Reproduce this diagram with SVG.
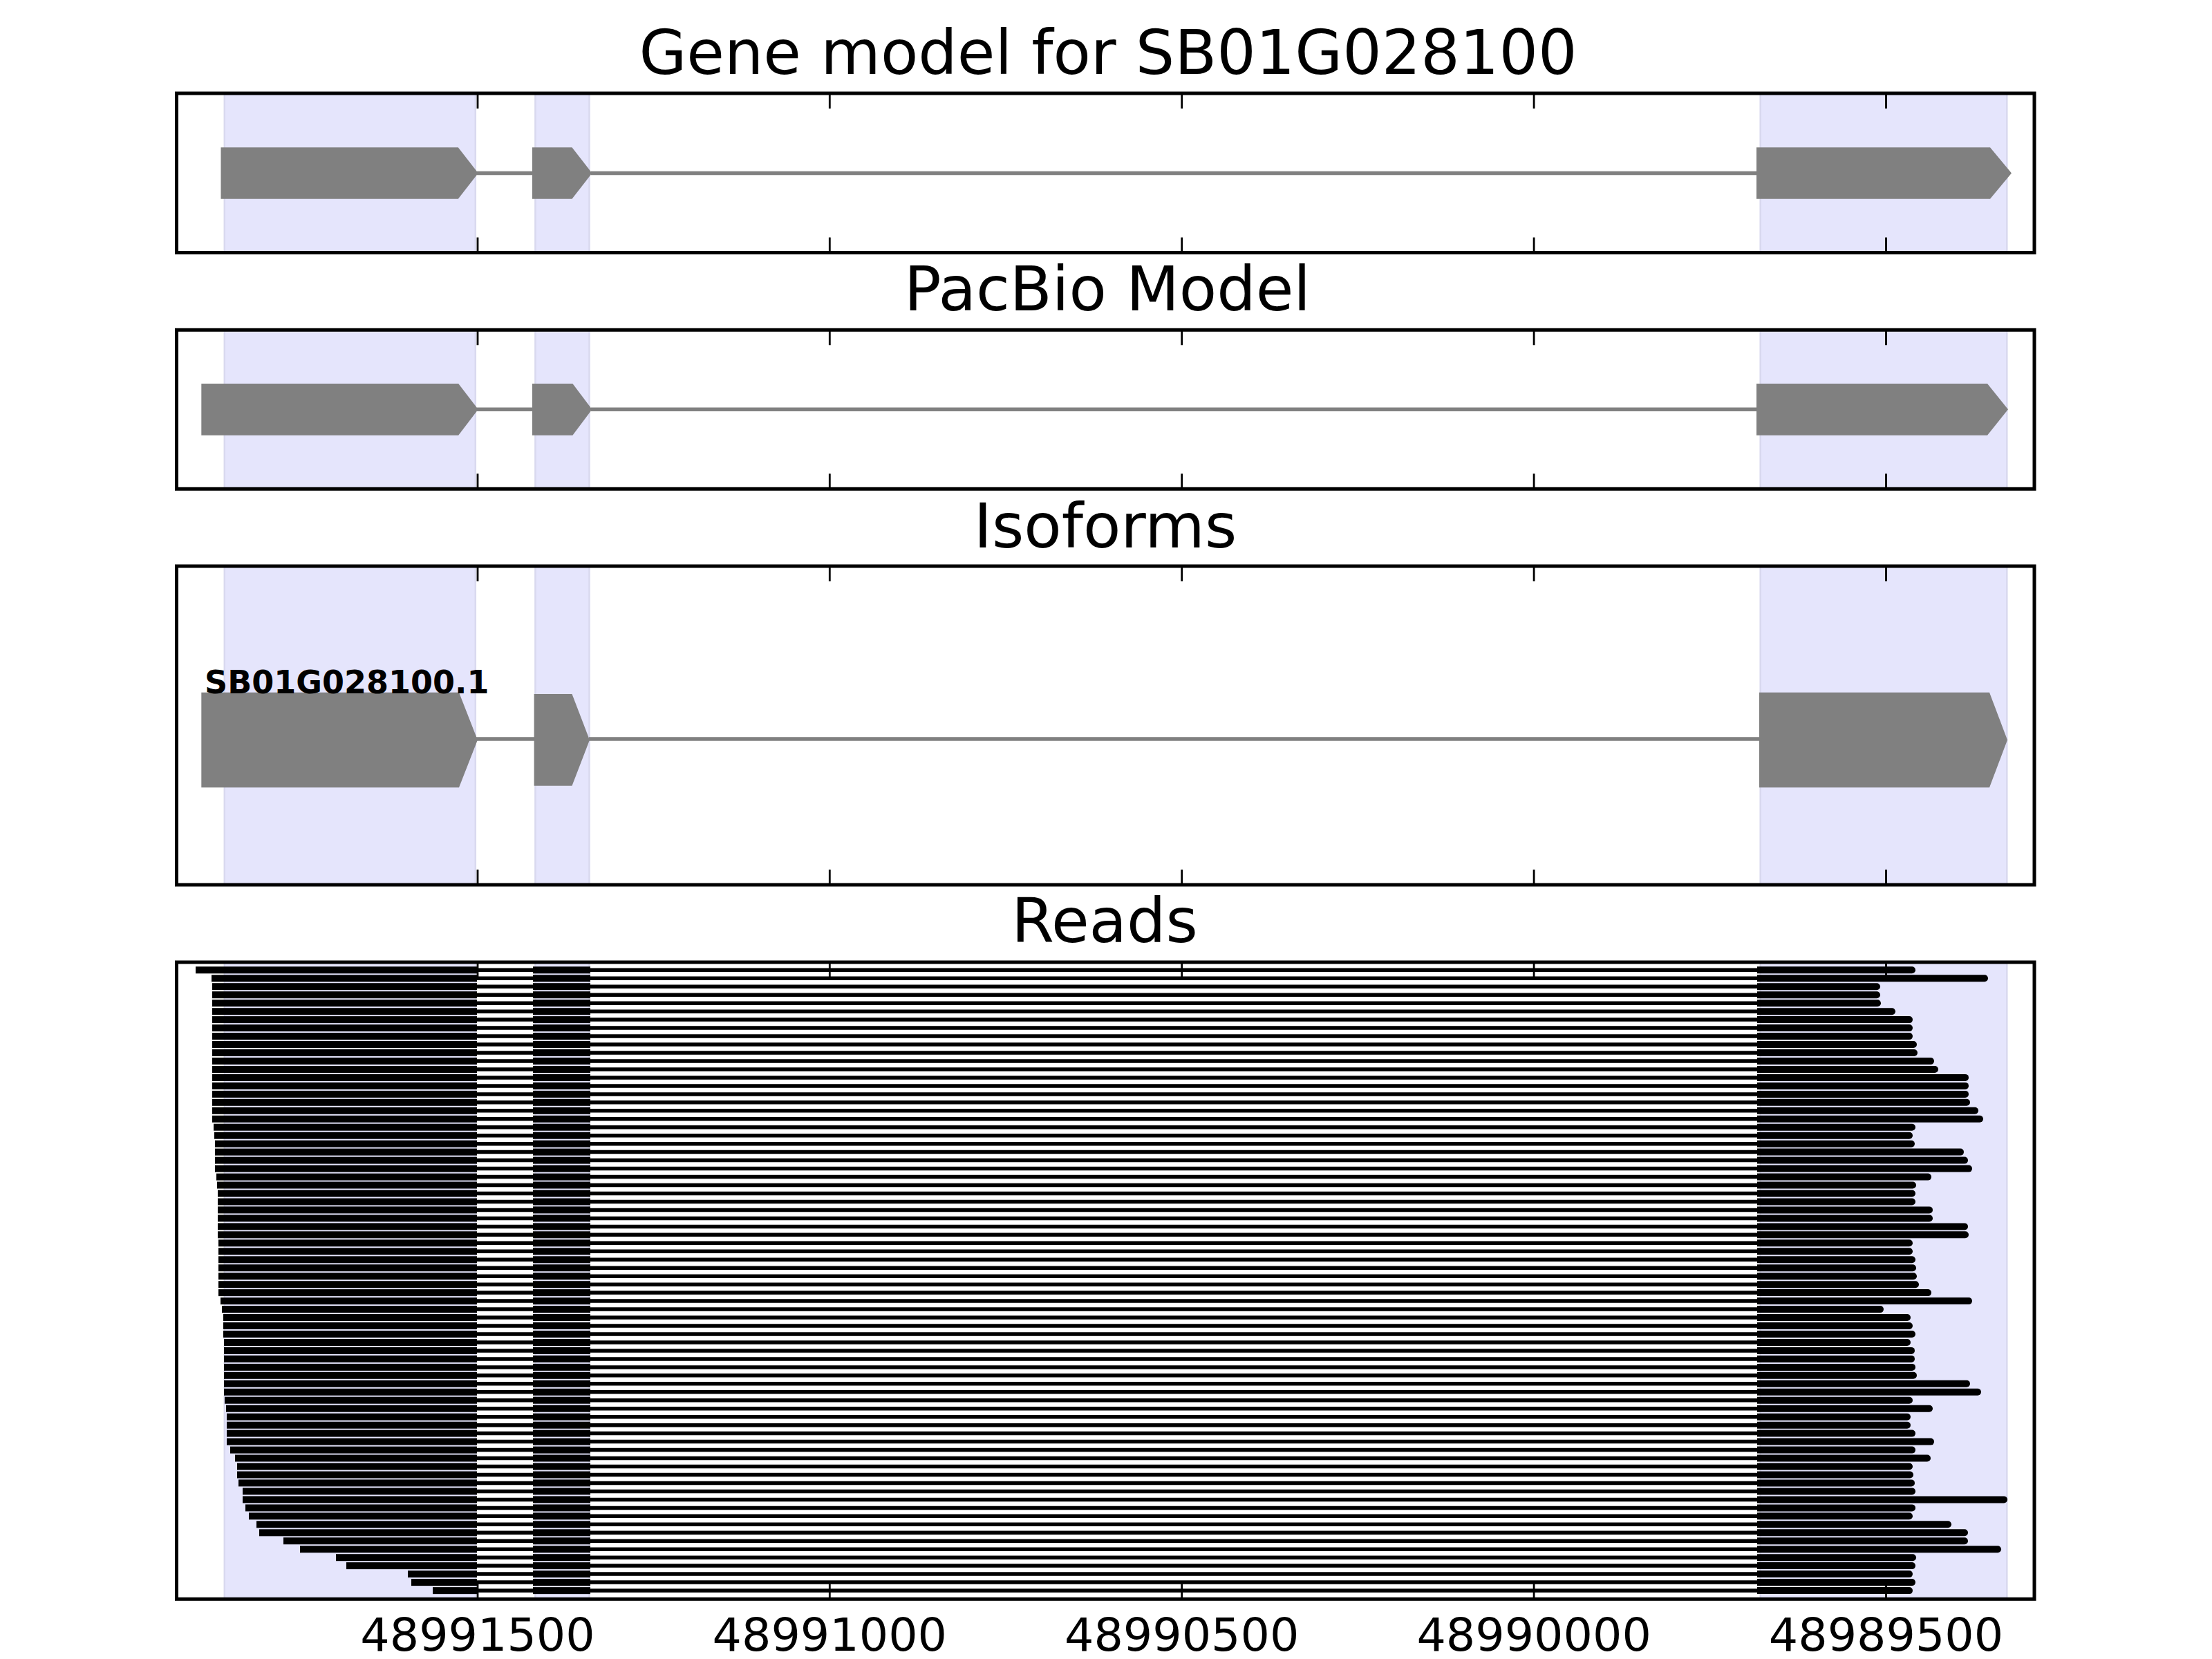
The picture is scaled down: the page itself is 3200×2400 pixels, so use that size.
<svg xmlns="http://www.w3.org/2000/svg" xmlns:xlink="http://www.w3.org/1999/xlink" width="3200" height="2400" viewBox="0 0 3200 2400">
<style>
.span{fill:#e5e5fc;stroke:#d9d9ef;stroke-width:2.5}
.exon{fill:#808080}
.intron{stroke:#808080;stroke-width:5.5;fill:none}
.frame{fill:none;stroke:#000;stroke-width:5}
.tick{stroke:#000;stroke-width:2.8;fill:none}
.rl{stroke:#000;stroke-width:5.5;fill:none}
.rd{fill:#000}
text{font-family:"DejaVu Sans","Liberation Sans",sans-serif;fill:#000}
.title{font-size:88.9px;text-anchor:middle}
.tl{font-size:66.7px;text-anchor:middle}
.lab{font-size:46px;font-weight:bold}
</style>
<defs>
<g id="mid">
<path class="rl" d="M688 0H773M852 0H2544"/>
<rect class="rd" x="771" y="-5" width="83" height="10"/>
</g>
</defs>
<rect x="0" y="0" width="3200" height="2400" fill="#fff"/>

<g id="panel-gene-model">
<text class="title" x="1603" y="107">Gene model for SB01G028100</text>
<rect class="span" x="324.8" y="135" width="363" height="230.5"/>
<rect class="span" x="774.4" y="135" width="78.1" height="230.5"/>
<rect class="span" x="2546.7" y="135" width="356.6" height="230.5"/>
<path class="intron" d="M690 250.5H772M855 250.5H2543"/>
<polygon class="exon" points="319.5,213.3 662.8,213.3 691.8,250.5 662.8,287.7 319.5,287.7"/>
<polygon class="exon" points="770,213.3 827.5,213.3 856.5,250.5 827.5,287.7 770,287.7"/>
<polygon class="exon" points="2541,213.3 2879,213.3 2910,250.5 2879,287.7 2541,287.7"/>
<rect class="frame" x="255.5" y="135" width="2687.5" height="230.5"/>
<path class="tick" d="M691 135v22M1200.3 135v22M1709.7 135v22M2219.1 135v22M2728.5 135v22M691 365.5v-22M1200.3 365.5v-22M1709.7 365.5v-22M2219.1 365.5v-22M2728.5 365.5v-22"/>
</g>

<g id="panel-pacbio">
<text class="title" x="1602" y="449">PacBio Model</text>
<rect class="span" x="324.8" y="477.3" width="363" height="230"/>
<rect class="span" x="774.4" y="477.3" width="78.1" height="230"/>
<rect class="span" x="2546.7" y="477.3" width="356.6" height="230"/>
<path class="intron" d="M690 592.3H772M855 592.3H2543"/>
<polygon class="exon" points="291.3,555 663.2,555 691.8,592.3 663.2,629.7 291.3,629.7"/>
<polygon class="exon" points="770,555 828.4,555 856.5,592.3 828.4,629.7 770,629.7"/>
<polygon class="exon" points="2541,555 2875,555 2905,592.3 2875,629.7 2541,629.7"/>
<rect class="frame" x="255.5" y="477.3" width="2687.5" height="230"/>
<path class="tick" d="M691 477.3v22M1200.3 477.3v22M1709.7 477.3v22M2219.1 477.3v22M2728.5 477.3v22M691 707.3v-22M1200.3 707.3v-22M1709.7 707.3v-22M2219.1 707.3v-22M2728.5 707.3v-22"/>
</g>

<g id="panel-isoforms">
<text class="title" x="1599" y="792">Isoforms</text>
<rect class="span" x="324.8" y="819" width="363" height="461"/>
<rect class="span" x="774.4" y="819" width="78.1" height="461"/>
<rect class="span" x="2546.7" y="819" width="356.6" height="461"/>
<path class="intron" d="M689 1069H774M852 1069H2546"/>
<polygon class="exon" points="291.3,1001.7 664,1001.7 690.9,1070.5 664,1139.3 291.3,1139.3"/>
<polygon class="exon" points="772.6,1004 827.5,1004 853,1070.5 827.5,1136.7 772.6,1136.7"/>
<polygon class="exon" points="2545,1001.7 2878,1001.7 2904,1070.5 2878,1139.3 2545,1139.3"/>
<text class="lab" x="296" y="1003">SB01G028100.1</text>
<rect class="frame" x="255.5" y="819" width="2687.5" height="461"/>
<path class="tick" d="M691 819v22M1200.3 819v22M1709.7 819v22M2219.1 819v22M2728.5 819v22M691 1280v-22M1200.3 1280v-22M1709.7 1280v-22M2219.1 1280v-22M2728.5 1280v-22"/>
</g>

<g id="panel-reads">
<text class="title" x="1598" y="1363">Reads</text>
<rect class="span" x="324.8" y="1392" width="363" height="921.3"/>
<rect class="span" x="774.4" y="1392" width="78.1" height="921.3"/>
<rect class="span" x="2546.7" y="1392" width="356.6" height="921.3"/>
<g id="reads">
<g transform="translate(0,1403.3)"><rect class="rd" x="283" y="-5" width="407" height="10"/><use xlink:href="#mid"/><path class="rd" d="M2542-5H2766a5 5 0 0 1 0 10H2542Z"/></g>
<g transform="translate(0,1415.3)"><rect class="rd" x="306" y="-5" width="384" height="10"/><use xlink:href="#mid"/><path class="rd" d="M2542-5H2871a5 5 0 0 1 0 10H2542Z"/></g>
<g transform="translate(0,1427.2)"><rect class="rd" x="307" y="-5" width="383" height="10"/><use xlink:href="#mid"/><path class="rd" d="M2542-5H2715a5 5 0 0 1 0 10H2542Z"/></g>
<g transform="translate(0,1439.2)"><rect class="rd" x="307" y="-5" width="383" height="10"/><use xlink:href="#mid"/><path class="rd" d="M2542-5H2715a5 5 0 0 1 0 10H2542Z"/></g>
<g transform="translate(0,1451.2)"><rect class="rd" x="307" y="-5" width="383" height="10"/><use xlink:href="#mid"/><path class="rd" d="M2542-5H2716a5 5 0 0 1 0 10H2542Z"/></g>
<g transform="translate(0,1463.2)"><rect class="rd" x="307" y="-5" width="383" height="10"/><use xlink:href="#mid"/><path class="rd" d="M2542-5H2737a5 5 0 0 1 0 10H2542Z"/></g>
<g transform="translate(0,1475.1)"><rect class="rd" x="307" y="-5" width="383" height="10"/><use xlink:href="#mid"/><path class="rd" d="M2542-5H2762a5 5 0 0 1 0 10H2542Z"/></g>
<g transform="translate(0,1487.1)"><rect class="rd" x="307" y="-5" width="383" height="10"/><use xlink:href="#mid"/><path class="rd" d="M2542-5H2762a5 5 0 0 1 0 10H2542Z"/></g>
<g transform="translate(0,1499.1)"><rect class="rd" x="307" y="-5" width="383" height="10"/><use xlink:href="#mid"/><path class="rd" d="M2542-5H2762a5 5 0 0 1 0 10H2542Z"/></g>
<g transform="translate(0,1511.0)"><rect class="rd" x="307" y="-5" width="383" height="10"/><use xlink:href="#mid"/><path class="rd" d="M2542-5H2768a5 5 0 0 1 0 10H2542Z"/></g>
<g transform="translate(0,1523.0)"><rect class="rd" x="307" y="-5" width="383" height="10"/><use xlink:href="#mid"/><path class="rd" d="M2542-5H2769a5 5 0 0 1 0 10H2542Z"/></g>
<g transform="translate(0,1535.0)"><rect class="rd" x="307" y="-5" width="383" height="10"/><use xlink:href="#mid"/><path class="rd" d="M2542-5H2793a5 5 0 0 1 0 10H2542Z"/></g>
<g transform="translate(0,1547.0)"><rect class="rd" x="307" y="-5" width="383" height="10"/><use xlink:href="#mid"/><path class="rd" d="M2542-5H2799a5 5 0 0 1 0 10H2542Z"/></g>
<g transform="translate(0,1558.9)"><rect class="rd" x="307" y="-5" width="383" height="10"/><use xlink:href="#mid"/><path class="rd" d="M2542-5H2843a5 5 0 0 1 0 10H2542Z"/></g>
<g transform="translate(0,1570.9)"><rect class="rd" x="307" y="-5" width="383" height="10"/><use xlink:href="#mid"/><path class="rd" d="M2542-5H2843a5 5 0 0 1 0 10H2542Z"/></g>
<g transform="translate(0,1582.9)"><rect class="rd" x="307" y="-5" width="383" height="10"/><use xlink:href="#mid"/><path class="rd" d="M2542-5H2843a5 5 0 0 1 0 10H2542Z"/></g>
<g transform="translate(0,1594.8)"><rect class="rd" x="307" y="-5" width="383" height="10"/><use xlink:href="#mid"/><path class="rd" d="M2542-5H2845a5 5 0 0 1 0 10H2542Z"/></g>
<g transform="translate(0,1606.8)"><rect class="rd" x="307" y="-5" width="383" height="10"/><use xlink:href="#mid"/><path class="rd" d="M2542-5H2857a5 5 0 0 1 0 10H2542Z"/></g>
<g transform="translate(0,1618.8)"><rect class="rd" x="307" y="-5" width="383" height="10"/><use xlink:href="#mid"/><path class="rd" d="M2542-5H2864a5 5 0 0 1 0 10H2542Z"/></g>
<g transform="translate(0,1630.7)"><rect class="rd" x="309" y="-5" width="381" height="10"/><use xlink:href="#mid"/><path class="rd" d="M2542-5H2766a5 5 0 0 1 0 10H2542Z"/></g>
<g transform="translate(0,1642.7)"><rect class="rd" x="310" y="-5" width="380" height="10"/><use xlink:href="#mid"/><path class="rd" d="M2542-5H2762a5 5 0 0 1 0 10H2542Z"/></g>
<g transform="translate(0,1654.7)"><rect class="rd" x="311" y="-5" width="379" height="10"/><use xlink:href="#mid"/><path class="rd" d="M2542-5H2765a5 5 0 0 1 0 10H2542Z"/></g>
<g transform="translate(0,1666.6)"><rect class="rd" x="311" y="-5" width="379" height="10"/><use xlink:href="#mid"/><path class="rd" d="M2542-5H2836a5 5 0 0 1 0 10H2542Z"/></g>
<g transform="translate(0,1678.6)"><rect class="rd" x="311" y="-5" width="379" height="10"/><use xlink:href="#mid"/><path class="rd" d="M2542-5H2842a5 5 0 0 1 0 10H2542Z"/></g>
<g transform="translate(0,1690.6)"><rect class="rd" x="311" y="-5" width="379" height="10"/><use xlink:href="#mid"/><path class="rd" d="M2542-5H2848a5 5 0 0 1 0 10H2542Z"/></g>
<g transform="translate(0,1702.6)"><rect class="rd" x="313" y="-5" width="377" height="10"/><use xlink:href="#mid"/><path class="rd" d="M2542-5H2789a5 5 0 0 1 0 10H2542Z"/></g>
<g transform="translate(0,1714.5)"><rect class="rd" x="314" y="-5" width="376" height="10"/><use xlink:href="#mid"/><path class="rd" d="M2542-5H2767a5 5 0 0 1 0 10H2542Z"/></g>
<g transform="translate(0,1726.5)"><rect class="rd" x="315" y="-5" width="375" height="10"/><use xlink:href="#mid"/><path class="rd" d="M2542-5H2766a5 5 0 0 1 0 10H2542Z"/></g>
<g transform="translate(0,1738.5)"><rect class="rd" x="315" y="-5" width="375" height="10"/><use xlink:href="#mid"/><path class="rd" d="M2542-5H2766a5 5 0 0 1 0 10H2542Z"/></g>
<g transform="translate(0,1750.4)"><rect class="rd" x="315" y="-5" width="375" height="10"/><use xlink:href="#mid"/><path class="rd" d="M2542-5H2791a5 5 0 0 1 0 10H2542Z"/></g>
<g transform="translate(0,1762.4)"><rect class="rd" x="315" y="-5" width="375" height="10"/><use xlink:href="#mid"/><path class="rd" d="M2542-5H2791a5 5 0 0 1 0 10H2542Z"/></g>
<g transform="translate(0,1774.4)"><rect class="rd" x="315" y="-5" width="375" height="10"/><use xlink:href="#mid"/><path class="rd" d="M2542-5H2842a5 5 0 0 1 0 10H2542Z"/></g>
<g transform="translate(0,1786.3)"><rect class="rd" x="315" y="-5" width="375" height="10"/><use xlink:href="#mid"/><path class="rd" d="M2542-5H2843a5 5 0 0 1 0 10H2542Z"/></g>
<g transform="translate(0,1798.3)"><rect class="rd" x="316" y="-5" width="374" height="10"/><use xlink:href="#mid"/><path class="rd" d="M2542-5H2762a5 5 0 0 1 0 10H2542Z"/></g>
<g transform="translate(0,1810.3)"><rect class="rd" x="316" y="-5" width="374" height="10"/><use xlink:href="#mid"/><path class="rd" d="M2542-5H2762a5 5 0 0 1 0 10H2542Z"/></g>
<g transform="translate(0,1822.3)"><rect class="rd" x="316" y="-5" width="374" height="10"/><use xlink:href="#mid"/><path class="rd" d="M2542-5H2766a5 5 0 0 1 0 10H2542Z"/></g>
<g transform="translate(0,1834.2)"><rect class="rd" x="316" y="-5" width="374" height="10"/><use xlink:href="#mid"/><path class="rd" d="M2542-5H2767a5 5 0 0 1 0 10H2542Z"/></g>
<g transform="translate(0,1846.2)"><rect class="rd" x="316" y="-5" width="374" height="10"/><use xlink:href="#mid"/><path class="rd" d="M2542-5H2768a5 5 0 0 1 0 10H2542Z"/></g>
<g transform="translate(0,1858.2)"><rect class="rd" x="316" y="-5" width="374" height="10"/><use xlink:href="#mid"/><path class="rd" d="M2542-5H2771a5 5 0 0 1 0 10H2542Z"/></g>
<g transform="translate(0,1870.1)"><rect class="rd" x="316" y="-5" width="374" height="10"/><use xlink:href="#mid"/><path class="rd" d="M2542-5H2789a5 5 0 0 1 0 10H2542Z"/></g>
<g transform="translate(0,1882.1)"><rect class="rd" x="319" y="-5" width="371" height="10"/><use xlink:href="#mid"/><path class="rd" d="M2542-5H2848a5 5 0 0 1 0 10H2542Z"/></g>
<g transform="translate(0,1894.1)"><rect class="rd" x="321" y="-5" width="369" height="10"/><use xlink:href="#mid"/><path class="rd" d="M2542-5H2720a5 5 0 0 1 0 10H2542Z"/></g>
<g transform="translate(0,1906.0)"><rect class="rd" x="323" y="-5" width="367" height="10"/><use xlink:href="#mid"/><path class="rd" d="M2542-5H2759a5 5 0 0 1 0 10H2542Z"/></g>
<g transform="translate(0,1918.0)"><rect class="rd" x="323" y="-5" width="367" height="10"/><use xlink:href="#mid"/><path class="rd" d="M2542-5H2762a5 5 0 0 1 0 10H2542Z"/></g>
<g transform="translate(0,1930.0)"><rect class="rd" x="323" y="-5" width="367" height="10"/><use xlink:href="#mid"/><path class="rd" d="M2542-5H2766a5 5 0 0 1 0 10H2542Z"/></g>
<g transform="translate(0,1942.0)"><rect class="rd" x="324" y="-5" width="366" height="10"/><use xlink:href="#mid"/><path class="rd" d="M2542-5H2759a5 5 0 0 1 0 10H2542Z"/></g>
<g transform="translate(0,1953.9)"><rect class="rd" x="324" y="-5" width="366" height="10"/><use xlink:href="#mid"/><path class="rd" d="M2542-5H2765a5 5 0 0 1 0 10H2542Z"/></g>
<g transform="translate(0,1965.9)"><rect class="rd" x="324" y="-5" width="366" height="10"/><use xlink:href="#mid"/><path class="rd" d="M2542-5H2765a5 5 0 0 1 0 10H2542Z"/></g>
<g transform="translate(0,1977.9)"><rect class="rd" x="324" y="-5" width="366" height="10"/><use xlink:href="#mid"/><path class="rd" d="M2542-5H2766a5 5 0 0 1 0 10H2542Z"/></g>
<g transform="translate(0,1989.8)"><rect class="rd" x="324" y="-5" width="366" height="10"/><use xlink:href="#mid"/><path class="rd" d="M2542-5H2768a5 5 0 0 1 0 10H2542Z"/></g>
<g transform="translate(0,2001.8)"><rect class="rd" x="324" y="-5" width="366" height="10"/><use xlink:href="#mid"/><path class="rd" d="M2542-5H2845a5 5 0 0 1 0 10H2542Z"/></g>
<g transform="translate(0,2013.8)"><rect class="rd" x="324" y="-5" width="366" height="10"/><use xlink:href="#mid"/><path class="rd" d="M2542-5H2861a5 5 0 0 1 0 10H2542Z"/></g>
<g transform="translate(0,2025.7)"><rect class="rd" x="325" y="-5" width="365" height="10"/><use xlink:href="#mid"/><path class="rd" d="M2542-5H2762a5 5 0 0 1 0 10H2542Z"/></g>
<g transform="translate(0,2037.7)"><rect class="rd" x="327" y="-5" width="363" height="10"/><use xlink:href="#mid"/><path class="rd" d="M2542-5H2791a5 5 0 0 1 0 10H2542Z"/></g>
<g transform="translate(0,2049.7)"><rect class="rd" x="328" y="-5" width="362" height="10"/><use xlink:href="#mid"/><path class="rd" d="M2542-5H2759a5 5 0 0 1 0 10H2542Z"/></g>
<g transform="translate(0,2061.7)"><rect class="rd" x="328" y="-5" width="362" height="10"/><use xlink:href="#mid"/><path class="rd" d="M2542-5H2759a5 5 0 0 1 0 10H2542Z"/></g>
<g transform="translate(0,2073.6)"><rect class="rd" x="328" y="-5" width="362" height="10"/><use xlink:href="#mid"/><path class="rd" d="M2542-5H2766a5 5 0 0 1 0 10H2542Z"/></g>
<g transform="translate(0,2085.6)"><rect class="rd" x="328" y="-5" width="362" height="10"/><use xlink:href="#mid"/><path class="rd" d="M2542-5H2793a5 5 0 0 1 0 10H2542Z"/></g>
<g transform="translate(0,2097.6)"><rect class="rd" x="333" y="-5" width="357" height="10"/><use xlink:href="#mid"/><path class="rd" d="M2542-5H2766a5 5 0 0 1 0 10H2542Z"/></g>
<g transform="translate(0,2109.5)"><rect class="rd" x="340" y="-5" width="350" height="10"/><use xlink:href="#mid"/><path class="rd" d="M2542-5H2788a5 5 0 0 1 0 10H2542Z"/></g>
<g transform="translate(0,2121.5)"><rect class="rd" x="343" y="-5" width="347" height="10"/><use xlink:href="#mid"/><path class="rd" d="M2542-5H2762a5 5 0 0 1 0 10H2542Z"/></g>
<g transform="translate(0,2133.5)"><rect class="rd" x="343" y="-5" width="347" height="10"/><use xlink:href="#mid"/><path class="rd" d="M2542-5H2763a5 5 0 0 1 0 10H2542Z"/></g>
<g transform="translate(0,2145.4)"><rect class="rd" x="345" y="-5" width="345" height="10"/><use xlink:href="#mid"/><path class="rd" d="M2542-5H2765a5 5 0 0 1 0 10H2542Z"/></g>
<g transform="translate(0,2157.4)"><rect class="rd" x="351" y="-5" width="339" height="10"/><use xlink:href="#mid"/><path class="rd" d="M2542-5H2766a5 5 0 0 1 0 10H2542Z"/></g>
<g transform="translate(0,2169.4)"><rect class="rd" x="351" y="-5" width="339" height="10"/><use xlink:href="#mid"/><path class="rd" d="M2542-5H2899a5 5 0 0 1 0 10H2542Z"/></g>
<g transform="translate(0,2181.4)"><rect class="rd" x="355" y="-5" width="335" height="10"/><use xlink:href="#mid"/><path class="rd" d="M2542-5H2766a5 5 0 0 1 0 10H2542Z"/></g>
<g transform="translate(0,2193.3)"><rect class="rd" x="360" y="-5" width="330" height="10"/><use xlink:href="#mid"/><path class="rd" d="M2542-5H2762a5 5 0 0 1 0 10H2542Z"/></g>
<g transform="translate(0,2205.3)"><rect class="rd" x="371" y="-5" width="319" height="10"/><use xlink:href="#mid"/><path class="rd" d="M2542-5H2818a5 5 0 0 1 0 10H2542Z"/></g>
<g transform="translate(0,2217.3)"><rect class="rd" x="375" y="-5" width="315" height="10"/><use xlink:href="#mid"/><path class="rd" d="M2542-5H2842a5 5 0 0 1 0 10H2542Z"/></g>
<g transform="translate(0,2229.2)"><rect class="rd" x="410" y="-5" width="280" height="10"/><use xlink:href="#mid"/><path class="rd" d="M2542-5H2842a5 5 0 0 1 0 10H2542Z"/></g>
<g transform="translate(0,2241.2)"><rect class="rd" x="434" y="-5" width="256" height="10"/><use xlink:href="#mid"/><path class="rd" d="M2542-5H2890a5 5 0 0 1 0 10H2542Z"/></g>
<g transform="translate(0,2253.2)"><rect class="rd" x="486" y="-5" width="204" height="10"/><use xlink:href="#mid"/><path class="rd" d="M2542-5H2767a5 5 0 0 1 0 10H2542Z"/></g>
<g transform="translate(0,2265.1)"><rect class="rd" x="501" y="-5" width="189" height="10"/><use xlink:href="#mid"/><path class="rd" d="M2542-5H2766a5 5 0 0 1 0 10H2542Z"/></g>
<g transform="translate(0,2277.1)"><rect class="rd" x="590" y="-5" width="100" height="10"/><use xlink:href="#mid"/><path class="rd" d="M2542-5H2762a5 5 0 0 1 0 10H2542Z"/></g>
<g transform="translate(0,2289.1)"><rect class="rd" x="595" y="-5" width="95" height="10"/><use xlink:href="#mid"/><path class="rd" d="M2542-5H2766a5 5 0 0 1 0 10H2542Z"/></g>
<g transform="translate(0,2301.1)"><rect class="rd" x="626" y="-5" width="64" height="10"/><use xlink:href="#mid"/><path class="rd" d="M2542-5H2762a5 5 0 0 1 0 10H2542Z"/></g>
</g>
<rect class="frame" x="255.5" y="1392" width="2687.5" height="921.3"/>
<path class="tick" d="M691 1392v22M1200.3 1392v22M1709.7 1392v22M2219.1 1392v22M2728.5 1392v22M691 2313.3v-22M1200.3 2313.3v-22M1709.7 2313.3v-22M2219.1 2313.3v-22M2728.5 2313.3v-22"/>
<g id="tick-labels">
<text class="tl" x="691" y="2388">48991500</text>
<text class="tl" x="1200.3" y="2388">48991000</text>
<text class="tl" x="1709.7" y="2388">48990500</text>
<text class="tl" x="2219.1" y="2388">48990000</text>
<text class="tl" x="2728.5" y="2388">48989500</text>
</g>
</g>
</svg>
